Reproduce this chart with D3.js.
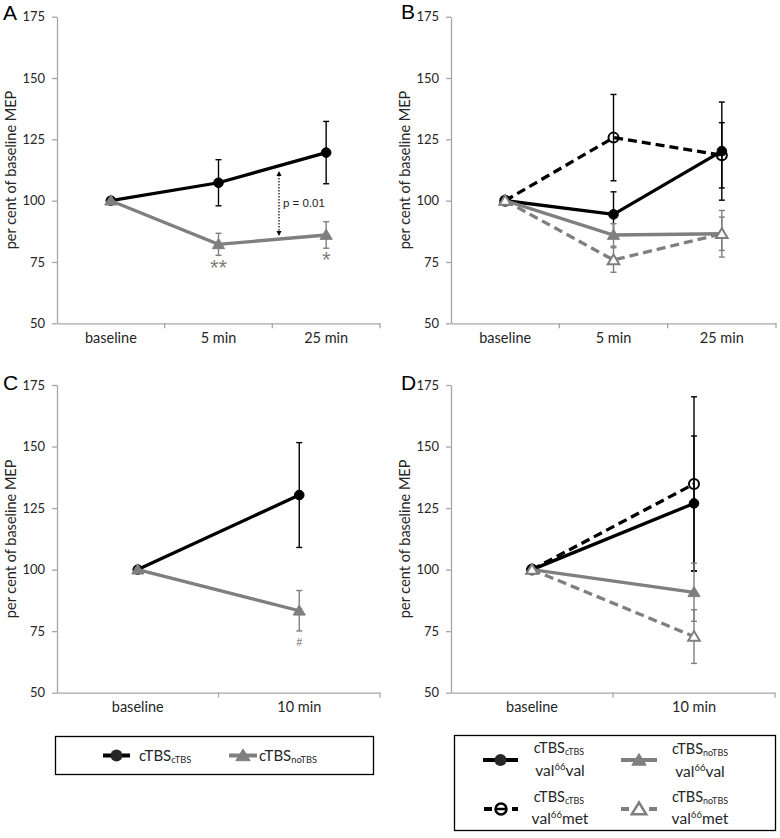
<!DOCTYPE html>
<html><head><meta charset="utf-8">
<script src="https://cdn.jsdelivr.net/npm/d3@7"></script>
<style>body{margin:0;background:#fff}svg{display:block}</style>
</head><body>
<svg id="c" width="780" height="838"></svg>
<script>
const catsAB = ["baseline", "5 min", "25 min"];
const catsCD = ["baseline", "10 min"];
const yTicks = [50, 75, 100, 125, 150, 175];

const A_cTBS = [100, 107.3, 119.6], A_cTBS_err = [0, 9.4, 12.7];
const A_noTBS = [100, 82.2, 86.0], A_noTBS_err = [0, 4.5, 5.4];

const B_cTBS_vv = [100, 94.4, 120.2], B_cTBS_vv_err = [0, 9.2, 20.0];
const B_cTBS_vm = [100, 125.7, 118.5], B_cTBS_vm_err = [0, 17.6, 13.3];
const B_noTBS_vv = [100, 86.0, 86.5], B_noTBS_vv_err = [0, 4.6, 6.8];
const B_noTBS_vm = [100, 75.8, 86.5], B_noTBS_vm_err = [0, 5.0, 9.5];

const C_cTBS = [100, 130.3], C_cTBS_err = [0, 21.3];
const C_noTBS = [100, 83.3], C_noTBS_err = [0, 8.2];

const D_cTBS_vv = [100, 126.9], D_cTBS_vv_err = [0, 27.4];
const D_cTBS_vm = [100, 134.8], D_cTBS_vm_err = [0, 35.4];
const D_noTBS_vv = [100, 90.8], D_noTBS_vv_err = [0, 11.8];
const D_noTBS_vm = [100, 72.8], D_noTBS_vm_err = [0, 10.9];

const BLACK = "#000", GRAY = "#7f7f7f", AXIS = "#a6a6a6", TXT = "#262626";
const FONT = "Lato, 'Open Sans', sans-serif";

const svg = d3.select("#c");

const styles = {
  cTBS_vv: {color: BLACK, dash: null, marker: "circle", fill: BLACK},
  cTBS_vm: {color: BLACK, dash: "9,5", marker: "circle", fill: "none"},
  noTBS_vv: {color: GRAY, dash: null, marker: "tri", fill: GRAY},
  noTBS_vm: {color: GRAY, dash: "9,5", marker: "tri", fill: "#fff"}
};

function drawMarker(g, type, cx, cy, st) {
  if (type === "circle") {
    g.append("circle").attr("cx", cx).attr("cy", cy).attr("r", st.fill === "none" ? 5 : 4.8)
      .attr("fill", st.fill === "none" ? "none" : st.fill)
      .attr("stroke", st.color).attr("stroke-width", st.fill === "none" ? 2 : 1);
  } else {
    const s = st.fill === "#fff" ? 5.5 : 5.8;
    g.append("path")
      .attr("d", `M${cx},${cy - s}L${cx + s * 1.05},${cy + s * 0.75}L${cx - s * 1.05},${cy + s * 0.75}Z`)
      .attr("fill", st.fill).attr("stroke", st.color).attr("stroke-width", st.fill === "#fff" ? 2 : 1);
  }
}

function panel(cfg) {
  const {x0, x1, yT, yB, cats, series, letter} = cfg;
  const g = svg.append("g");
  const y = d3.scaleLinear().domain([50, 175]).range([yB, yT]);
  const xb = d3.scaleBand().domain(cats).range([x0, x1]).padding(0);
  const xc = c => xb(c) + xb.bandwidth() / 2;

  const ya = g.append("g").attr("transform", `translate(${x0},0)`)
    .call(d3.axisLeft(y).tickValues(yTicks).tickSize(5).tickPadding(7).tickSizeOuter(0));
  ya.select(".domain").attr("stroke", AXIS).attr("stroke-width", 1.3);
  ya.selectAll(".tick line").attr("stroke", AXIS).attr("stroke-width", 1.3);
  ya.selectAll(".tick text").attr("font-family", FONT).attr("font-size", 13).attr("fill", TXT);

  const xa = g.append("g").attr("transform", `translate(0,${yB})`)
    .call(d3.axisBottom(xb).tickSize(0).tickPadding(9));
  xa.select(".domain").attr("stroke", AXIS).attr("stroke-width", 1.3);
  xa.selectAll(".tick text").attr("font-family", FONT).attr("font-size", 14.5).attr("fill", TXT);
  const bounds = cats.map(c => xb(c)).concat([x1]).slice(1);
  g.selectAll(".xb").data(bounds).enter().append("line")
    .attr("x1", d => d).attr("x2", d => d).attr("y1", yB).attr("y2", yB + 5)
    .attr("stroke", AXIS).attr("stroke-width", 1.3);

  g.append("text").attr("transform", `translate(${x0 - 45},${(yT + yB) / 2}) rotate(-90)`)
    .attr("text-anchor", "middle").attr("dominant-baseline", "middle")
    .attr("font-family", FONT).attr("font-size", 14.5).attr("fill", TXT)
    .text("per cent of baseline MEP");

  g.append("text").attr("x", cfg.lx).attr("y", cfg.ly)
    .attr("font-family", "'Liberation Sans', Arial, sans-serif").attr("font-size", 21).attr("fill", BLACK)
    .text(letter);

  series.forEach(s => {
    const st = styles[s.key];
    s.vals.forEach((v, i) => {
      const e = s.err[i];
      if (!e) return;
      const cx = xc(cats[i]);
      g.append("line").attr("x1", cx).attr("x2", cx).attr("y1", y(v - e)).attr("y2", y(v + e))
        .attr("stroke", st.color).attr("stroke-width", 1.4);
      [v - e, v + e].forEach(t => g.append("line").attr("x1", cx - 3).attr("x2", cx + 3)
        .attr("y1", y(t)).attr("y2", y(t)).attr("stroke", st.color).attr("stroke-width", 1.4));
    });
  });

  const line = d3.line().x((d, i) => xc(cats[i])).y(d => y(d));
  series.forEach(s => {
    const st = styles[s.key];
    g.append("path").datum(s.vals).attr("d", line).attr("fill", "none")
      .attr("stroke", st.color).attr("stroke-width", 3.3)
      .attr("stroke-dasharray", st.dash);
    s.vals.forEach((v, i) => drawMarker(g, st.marker, xc(cats[i]), y(v), st));
  });
  return {g, y, xc};
}

const pA = panel({x0: 57, x1: 380, yT: 16.7, yB: 323.3, cats: catsAB, letter: "A", lx: 3, ly: 20,
  series: [
    {key: "cTBS_vv", vals: A_cTBS, err: A_cTBS_err},
    {key: "noTBS_vv", vals: A_noTBS, err: A_noTBS_err}
  ]});
pA.g.append("text").attr("x", pA.xc("5 min")).attr("y", 275)
  .attr("text-anchor", "middle").attr("font-family", "'Liberation Sans', sans-serif")
  .attr("font-size", 22).attr("fill", GRAY).text("**");
pA.g.append("text").attr("x", pA.xc("25 min")).attr("y", 267)
  .attr("text-anchor", "middle").attr("font-family", "'Liberation Sans', sans-serif")
  .attr("font-size", 22).attr("fill", GRAY).text("*");
{
  const ax = 279, ay1 = 171, ay2 = 236;
  pA.g.append("line").attr("x1", ax).attr("x2", ax).attr("y1", ay1 + 4).attr("y2", ay2 - 4)
    .attr("stroke", BLACK).attr("stroke-width", 1.2).attr("stroke-dasharray", "1.5,1.5");
  pA.g.append("path").attr("d", `M${ax},${ay1}L${ax + 2.5},${ay1 + 5}L${ax - 2.5},${ay1 + 5}Z`).attr("fill", BLACK);
  pA.g.append("path").attr("d", `M${ax},${ay2}L${ax + 2.5},${ay2 - 5}L${ax - 2.5},${ay2 - 5}Z`).attr("fill", BLACK);
  pA.g.append("text").attr("x", ax + 4).attr("y", 207).attr("font-family", "'Liberation Sans', sans-serif")
    .attr("font-size", 11.5).attr("fill", "#222").text("p = 0.01");
}

panel({x0: 451, x1: 776, yT: 16.7, yB: 323.3, cats: catsAB, letter: "B", lx: 401, ly: 19,
  series: [
    {key: "cTBS_vv", vals: B_cTBS_vv, err: B_cTBS_vv_err},
    {key: "cTBS_vm", vals: B_cTBS_vm, err: B_cTBS_vm_err},
    {key: "noTBS_vv", vals: B_noTBS_vv, err: B_noTBS_vv_err},
    {key: "noTBS_vm", vals: B_noTBS_vm, err: B_noTBS_vm_err}
  ]});

const pC = panel({x0: 57, x1: 380, yT: 385, yB: 692.7, cats: catsCD, letter: "C", lx: 3, ly: 390,
  series: [
    {key: "cTBS_vv", vals: C_cTBS, err: C_cTBS_err},
    {key: "noTBS_vv", vals: C_noTBS, err: C_noTBS_err}
  ]});
pC.g.append("text").attr("x", pC.xc("10 min")).attr("y", pC.y(C_noTBS[1] - C_noTBS_err[1]) + 15)
  .attr("text-anchor", "middle").attr("font-family", "'Liberation Sans', sans-serif")
  .attr("font-size", 10).attr("fill", "#666").text("#");

panel({x0: 451, x1: 775, yT: 385, yB: 692.7, cats: catsCD, letter: "D", lx: 401, ly: 390,
  series: [
    {key: "cTBS_vv", vals: D_cTBS_vv, err: D_cTBS_vv_err},
    {key: "cTBS_vm", vals: D_cTBS_vm, err: D_cTBS_vm_err},
    {key: "noTBS_vv", vals: D_noTBS_vv, err: D_noTBS_vv_err},
    {key: "noTBS_vm", vals: D_noTBS_vm, err: D_noTBS_vm_err}
  ]});

function legSym(g, key, x1, x2, y0) {
  const st = styles[key];
  g.append("line").attr("x1", x1).attr("x2", x2).attr("y1", y0).attr("y2", y0)
    .attr("stroke", st.color).attr("stroke-width", 4).attr("stroke-dasharray", st.dash ? "8,6" : null);
  const cx = (x1 + x2) / 2;
  if (st.marker === "circle") {
    if (st.fill === "none") {
      g.append("circle").attr("cx", cx).attr("cy", y0).attr("r", 5.5).attr("fill", "#fff")
        .attr("stroke", st.color).attr("stroke-width", 2.5);
      g.append("line").attr("x1", cx - 5).attr("x2", cx + 5).attr("y1", y0).attr("y2", y0)
        .attr("stroke", st.color).attr("stroke-width", 2.5);
    } else {
      g.append("circle").attr("cx", cx).attr("cy", y0).attr("r", 6).attr("fill", "#262626");
    }
  } else {
    const s = 6.5;
    g.append("path").attr("d", `M${cx},${y0 - s}L${cx + s * 1.1},${y0 + s * 0.8}L${cx - s * 1.1},${y0 + s * 0.8}Z`)
      .attr("fill", st.fill === "#fff" ? "#fff" : st.color).attr("stroke", st.color)
      .attr("stroke-width", st.fill === "#fff" ? 2.5 : 1);
  }
}
function subText(g, x, yb, main, sub, anchor, fs) {
  const t = g.append("text").attr("x", x).attr("y", yb).attr("text-anchor", anchor)
    .attr("font-family", FONT).attr("font-size", fs).attr("fill", TXT);
  t.append("tspan").text(main);
  t.append("tspan").attr("font-size", fs * 0.62).attr("dy", 2).text(sub);
  return t;
}
function supText(g, x, yb, a, sup, b, fs) {
  const t = g.append("text").attr("x", x).attr("y", yb).attr("text-anchor", "middle")
    .attr("font-family", FONT).attr("font-size", fs).attr("fill", TXT);
  t.append("tspan").text(a);
  t.append("tspan").attr("font-size", fs * 0.62).attr("dy", -6).text(sup);
  t.append("tspan").attr("dy", 6).text(b);
}

const L1 = svg.append("g");
L1.append("rect").attr("x", 55.5).attr("y", 736.5).attr("width", 318).attr("height", 38)
  .attr("fill", "none").attr("stroke", BLACK).attr("stroke-width", 1.3);
legSym(L1, "cTBS_vv", 103, 130, 755.5);
subText(L1, 139, 761, "cTBS", "cTBS", "start", 15);
legSym(L1, "noTBS_vv", 229, 257, 755.5);
subText(L1, 259, 761, "cTBS", "noTBS", "start", 15);

const L2 = svg.append("g");
L2.append("rect").attr("x", 454.5).attr("y", 735.5).attr("width", 321).attr("height", 95)
  .attr("fill", "none").attr("stroke", BLACK).attr("stroke-width", 1.3);
legSym(L2, "cTBS_vv", 483, 518, 760);
subText(L2, 559, 753, "cTBS", "cTBS", "middle", 14.5);
supText(L2, 560, 776, "val", "66", "val", 15.5);
legSym(L2, "noTBS_vv", 621, 657, 760);
subText(L2, 700, 754, "cTBS", "noTBS", "middle", 14.5);
supText(L2, 700, 777, "val", "66", "val", 15.5);
legSym(L2, "cTBS_vm", 484, 518, 809);
subText(L2, 559, 802, "cTBS", "cTBS", "middle", 14.5);
supText(L2, 560, 824, "val", "66", "met", 15.5);
legSym(L2, "noTBS_vm", 621, 657, 809);
subText(L2, 700, 802, "cTBS", "noTBS", "middle", 14.5);
supText(L2, 700, 824, "val", "66", "met", 15.5);
</script>
</body></html>
